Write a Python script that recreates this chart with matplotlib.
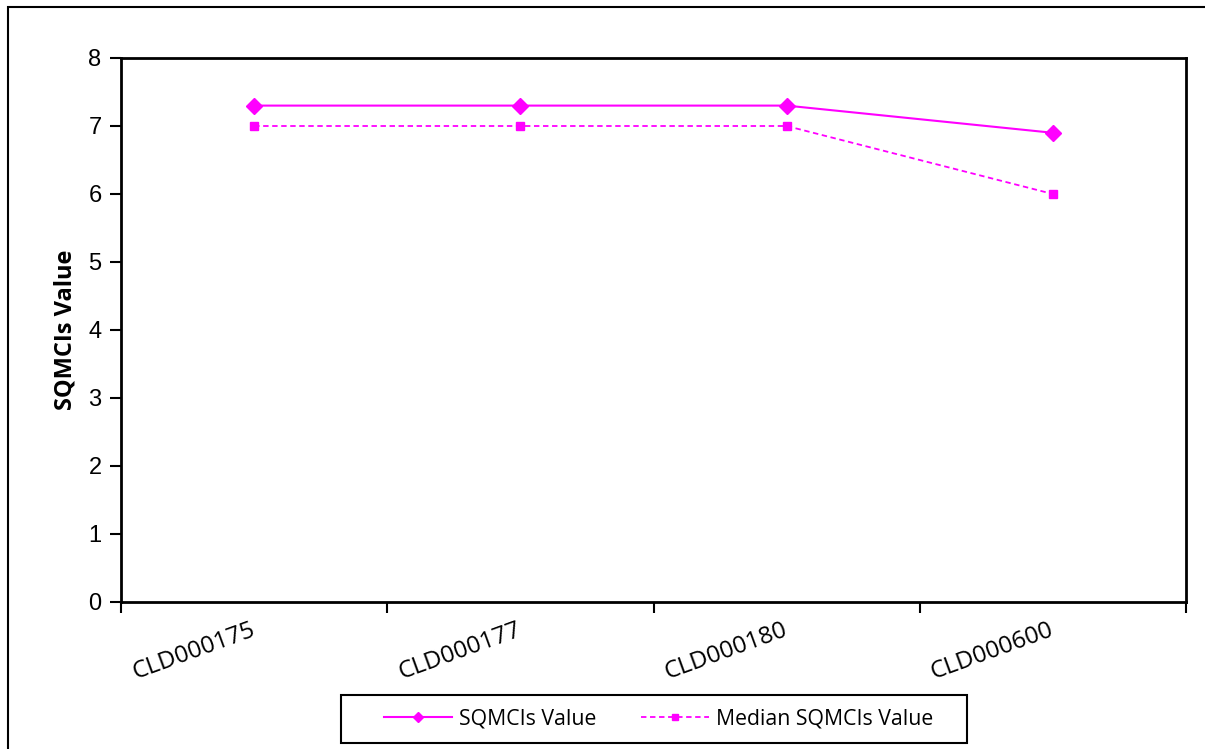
import numpy as np
import matplotlib.pyplot as plt
from matplotlib.patches import Rectangle

# sample ids and values
sites = ["CLD000175", "CLD000177", "CLD000180", "CLD000600"]
sqmci = [7.3, 7.3, 7.3, 6.9]
median_sqmci = [7.0, 7.0, 7.0, 6.0]
y_ticks = [0, 1, 2, 3, 4, 5, 6, 7, 8]

magenta = "#FF00FF"

fig = plt.figure(figsize=(12.05, 7.49), dpi=100)
ax = fig.add_axes([121 / 1205, 1 - 602 / 749, (1186 - 121) / 1205, (602 - 58) / 749])

x = np.arange(len(sites))
ax.plot(x, sqmci, color=magenta, lw=1.5, marker="D", markersize=8,
        label="SQMCIs Value")
ax.plot(x, median_sqmci, color=magenta, lw=1.3, ls=(0, (3, 2)), marker="s",
        markersize=6, label="Median SQMCIs Value")

ax.set_xlim(-0.5, len(sites) - 0.5)
ax.set_ylim(0, 8)
ax.set_yticks(y_ticks)
ax.set_yticklabels([str(v) for v in y_ticks], family="Liberation Sans", fontsize=17)

# category labels at centres, tick marks at boundaries
ax.set_xticks(x)
ax.set_xticklabels(sites, rotation=20, ha="right", va="center",
                   rotation_mode="anchor", family="Open Sans", fontsize=17.5)
ax.tick_params(axis="x", which="major", length=0, pad=20)
ax.set_xticks(np.arange(-0.5, len(sites)), minor=True)
ax.tick_params(axis="x", which="minor", length=8, width=1.5, direction="out")
ax.tick_params(axis="y", length=8, width=1.5, direction="out", pad=6)

for s in ax.spines.values():
    s.set_linewidth(2)
    s.set_color("black")

ax.set_ylabel("SQMCIs Value", family="Open Sans", fontweight="bold",
              fontsize=17, labelpad=8)

# legend under the chart, box drawn separately
leg = fig.legend(loc="center left", ncol=2,
                 bbox_to_anchor=(384 / 1205, 1 - 719 / 749),
                 frameon=False, prop={"family": "Open Sans", "size": 15.3},
                 handlelength=3.2, handletextpad=0.33, columnspacing=2.1,
                 borderaxespad=0, borderpad=0, markerscale=0.65)
fig.patches.append(Rectangle((341 / 1205, 1 - 743 / 749), (967 - 341) / 1205, 48 / 749,
                             transform=fig.transFigure, fill=False,
                             edgecolor="black", linewidth=1.5))

# outer chart border
fig.patches.append(Rectangle((8 / 1205, -0.05), 1.1, 1 - 7 / 749 + 0.05,
                             transform=fig.transFigure, fill=False,
                             edgecolor="black", linewidth=1.5))

fig.savefig("out.png", dpi=100)
